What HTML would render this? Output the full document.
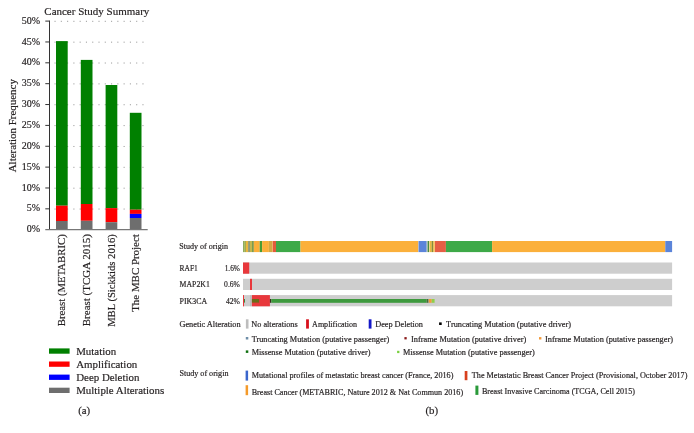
<!DOCTYPE html>
<html><head><meta charset="utf-8"><title>Figure</title>
<style>html,body{margin:0;padding:0;background:#fff;}body{width:694px;height:433px;overflow:hidden;font-family:"Liberation Serif",serif;}svg{display:block;will-change:transform;}text{stroke:#231f20;stroke-width:0.18px;}</style>
</head><body>
<svg width="694" height="433" viewBox="0 0 694 433" font-family="Liberation Serif, serif"><text x="44.3" y="14.7" font-size="11" textLength="105" lengthAdjust="spacingAndGlyphs" fill="#231f20">Cancer Study Summary</text>
<g fill="#9a9a9a"><rect x="54.50" y="208.54" width="1.1" height="1"/><rect x="60.78" y="208.54" width="1.1" height="1"/><rect x="67.06" y="208.54" width="1.1" height="1"/><rect x="73.34" y="208.54" width="1.1" height="1"/><rect x="79.62" y="208.54" width="1.1" height="1"/><rect x="85.90" y="208.54" width="1.1" height="1"/><rect x="92.18" y="208.54" width="1.1" height="1"/><rect x="98.46" y="208.54" width="1.1" height="1"/><rect x="104.74" y="208.54" width="1.1" height="1"/><rect x="111.02" y="208.54" width="1.1" height="1"/><rect x="117.30" y="208.54" width="1.1" height="1"/><rect x="123.58" y="208.54" width="1.1" height="1"/><rect x="129.86" y="208.54" width="1.1" height="1"/><rect x="136.14" y="208.54" width="1.1" height="1"/><rect x="142.42" y="208.54" width="1.1" height="1"/><rect x="54.50" y="187.68" width="1.1" height="1"/><rect x="60.78" y="187.68" width="1.1" height="1"/><rect x="67.06" y="187.68" width="1.1" height="1"/><rect x="73.34" y="187.68" width="1.1" height="1"/><rect x="79.62" y="187.68" width="1.1" height="1"/><rect x="85.90" y="187.68" width="1.1" height="1"/><rect x="92.18" y="187.68" width="1.1" height="1"/><rect x="98.46" y="187.68" width="1.1" height="1"/><rect x="104.74" y="187.68" width="1.1" height="1"/><rect x="111.02" y="187.68" width="1.1" height="1"/><rect x="117.30" y="187.68" width="1.1" height="1"/><rect x="123.58" y="187.68" width="1.1" height="1"/><rect x="129.86" y="187.68" width="1.1" height="1"/><rect x="136.14" y="187.68" width="1.1" height="1"/><rect x="142.42" y="187.68" width="1.1" height="1"/><rect x="54.50" y="166.82" width="1.1" height="1"/><rect x="60.78" y="166.82" width="1.1" height="1"/><rect x="67.06" y="166.82" width="1.1" height="1"/><rect x="73.34" y="166.82" width="1.1" height="1"/><rect x="79.62" y="166.82" width="1.1" height="1"/><rect x="85.90" y="166.82" width="1.1" height="1"/><rect x="92.18" y="166.82" width="1.1" height="1"/><rect x="98.46" y="166.82" width="1.1" height="1"/><rect x="104.74" y="166.82" width="1.1" height="1"/><rect x="111.02" y="166.82" width="1.1" height="1"/><rect x="117.30" y="166.82" width="1.1" height="1"/><rect x="123.58" y="166.82" width="1.1" height="1"/><rect x="129.86" y="166.82" width="1.1" height="1"/><rect x="136.14" y="166.82" width="1.1" height="1"/><rect x="142.42" y="166.82" width="1.1" height="1"/><rect x="54.50" y="145.96" width="1.1" height="1"/><rect x="60.78" y="145.96" width="1.1" height="1"/><rect x="67.06" y="145.96" width="1.1" height="1"/><rect x="73.34" y="145.96" width="1.1" height="1"/><rect x="79.62" y="145.96" width="1.1" height="1"/><rect x="85.90" y="145.96" width="1.1" height="1"/><rect x="92.18" y="145.96" width="1.1" height="1"/><rect x="98.46" y="145.96" width="1.1" height="1"/><rect x="104.74" y="145.96" width="1.1" height="1"/><rect x="111.02" y="145.96" width="1.1" height="1"/><rect x="117.30" y="145.96" width="1.1" height="1"/><rect x="123.58" y="145.96" width="1.1" height="1"/><rect x="129.86" y="145.96" width="1.1" height="1"/><rect x="136.14" y="145.96" width="1.1" height="1"/><rect x="142.42" y="145.96" width="1.1" height="1"/><rect x="54.50" y="125.10" width="1.1" height="1"/><rect x="60.78" y="125.10" width="1.1" height="1"/><rect x="67.06" y="125.10" width="1.1" height="1"/><rect x="73.34" y="125.10" width="1.1" height="1"/><rect x="79.62" y="125.10" width="1.1" height="1"/><rect x="85.90" y="125.10" width="1.1" height="1"/><rect x="92.18" y="125.10" width="1.1" height="1"/><rect x="98.46" y="125.10" width="1.1" height="1"/><rect x="104.74" y="125.10" width="1.1" height="1"/><rect x="111.02" y="125.10" width="1.1" height="1"/><rect x="117.30" y="125.10" width="1.1" height="1"/><rect x="123.58" y="125.10" width="1.1" height="1"/><rect x="129.86" y="125.10" width="1.1" height="1"/><rect x="136.14" y="125.10" width="1.1" height="1"/><rect x="142.42" y="125.10" width="1.1" height="1"/><rect x="54.50" y="104.24" width="1.1" height="1"/><rect x="60.78" y="104.24" width="1.1" height="1"/><rect x="67.06" y="104.24" width="1.1" height="1"/><rect x="73.34" y="104.24" width="1.1" height="1"/><rect x="79.62" y="104.24" width="1.1" height="1"/><rect x="85.90" y="104.24" width="1.1" height="1"/><rect x="92.18" y="104.24" width="1.1" height="1"/><rect x="98.46" y="104.24" width="1.1" height="1"/><rect x="104.74" y="104.24" width="1.1" height="1"/><rect x="111.02" y="104.24" width="1.1" height="1"/><rect x="117.30" y="104.24" width="1.1" height="1"/><rect x="123.58" y="104.24" width="1.1" height="1"/><rect x="129.86" y="104.24" width="1.1" height="1"/><rect x="136.14" y="104.24" width="1.1" height="1"/><rect x="142.42" y="104.24" width="1.1" height="1"/><rect x="54.50" y="83.38" width="1.1" height="1"/><rect x="60.78" y="83.38" width="1.1" height="1"/><rect x="67.06" y="83.38" width="1.1" height="1"/><rect x="73.34" y="83.38" width="1.1" height="1"/><rect x="79.62" y="83.38" width="1.1" height="1"/><rect x="85.90" y="83.38" width="1.1" height="1"/><rect x="92.18" y="83.38" width="1.1" height="1"/><rect x="98.46" y="83.38" width="1.1" height="1"/><rect x="104.74" y="83.38" width="1.1" height="1"/><rect x="111.02" y="83.38" width="1.1" height="1"/><rect x="117.30" y="83.38" width="1.1" height="1"/><rect x="123.58" y="83.38" width="1.1" height="1"/><rect x="129.86" y="83.38" width="1.1" height="1"/><rect x="136.14" y="83.38" width="1.1" height="1"/><rect x="142.42" y="83.38" width="1.1" height="1"/><rect x="54.50" y="62.52" width="1.1" height="1"/><rect x="60.78" y="62.52" width="1.1" height="1"/><rect x="67.06" y="62.52" width="1.1" height="1"/><rect x="73.34" y="62.52" width="1.1" height="1"/><rect x="79.62" y="62.52" width="1.1" height="1"/><rect x="85.90" y="62.52" width="1.1" height="1"/><rect x="92.18" y="62.52" width="1.1" height="1"/><rect x="98.46" y="62.52" width="1.1" height="1"/><rect x="104.74" y="62.52" width="1.1" height="1"/><rect x="111.02" y="62.52" width="1.1" height="1"/><rect x="117.30" y="62.52" width="1.1" height="1"/><rect x="123.58" y="62.52" width="1.1" height="1"/><rect x="129.86" y="62.52" width="1.1" height="1"/><rect x="136.14" y="62.52" width="1.1" height="1"/><rect x="142.42" y="62.52" width="1.1" height="1"/><rect x="54.50" y="41.66" width="1.1" height="1"/><rect x="60.78" y="41.66" width="1.1" height="1"/><rect x="67.06" y="41.66" width="1.1" height="1"/><rect x="73.34" y="41.66" width="1.1" height="1"/><rect x="79.62" y="41.66" width="1.1" height="1"/><rect x="85.90" y="41.66" width="1.1" height="1"/><rect x="92.18" y="41.66" width="1.1" height="1"/><rect x="98.46" y="41.66" width="1.1" height="1"/><rect x="104.74" y="41.66" width="1.1" height="1"/><rect x="111.02" y="41.66" width="1.1" height="1"/><rect x="117.30" y="41.66" width="1.1" height="1"/><rect x="123.58" y="41.66" width="1.1" height="1"/><rect x="129.86" y="41.66" width="1.1" height="1"/><rect x="136.14" y="41.66" width="1.1" height="1"/><rect x="142.42" y="41.66" width="1.1" height="1"/><rect x="54.50" y="20.80" width="1.1" height="1"/><rect x="60.78" y="20.80" width="1.1" height="1"/><rect x="67.06" y="20.80" width="1.1" height="1"/><rect x="73.34" y="20.80" width="1.1" height="1"/><rect x="79.62" y="20.80" width="1.1" height="1"/><rect x="85.90" y="20.80" width="1.1" height="1"/><rect x="92.18" y="20.80" width="1.1" height="1"/><rect x="98.46" y="20.80" width="1.1" height="1"/><rect x="104.74" y="20.80" width="1.1" height="1"/><rect x="111.02" y="20.80" width="1.1" height="1"/><rect x="117.30" y="20.80" width="1.1" height="1"/><rect x="123.58" y="20.80" width="1.1" height="1"/><rect x="129.86" y="20.80" width="1.1" height="1"/><rect x="136.14" y="20.80" width="1.1" height="1"/><rect x="142.42" y="20.80" width="1.1" height="1"/></g>
<rect x="56.0" y="41.1" width="11.7" height="164.60" fill="#008000"/>
<rect x="56.0" y="205.7" width="11.7" height="15.30" fill="#ff0000"/>
<rect x="56.0" y="221.0" width="11.7" height="8.70" fill="#6e6e6e"/>
<rect x="80.8" y="59.9" width="11.7" height="144.10" fill="#008000"/>
<rect x="80.8" y="204.0" width="11.7" height="16.80" fill="#ff0000"/>
<rect x="80.8" y="220.8" width="11.7" height="8.90" fill="#6e6e6e"/>
<rect x="105.6" y="85.0" width="11.7" height="123.10" fill="#008000"/>
<rect x="105.6" y="208.1" width="11.7" height="14.10" fill="#ff0000"/>
<rect x="105.6" y="222.2" width="11.7" height="7.50" fill="#6e6e6e"/>
<rect x="129.8" y="112.8" width="11.7" height="96.90" fill="#008000"/>
<rect x="129.8" y="209.7" width="11.7" height="4.20" fill="#ff0000"/>
<rect x="129.8" y="213.9" width="11.7" height="4.10" fill="#0000ff"/>
<rect x="129.8" y="218.0" width="11.7" height="11.70" fill="#6e6e6e"/>
<line x1="49.5" y1="20.599999999999994" x2="49.5" y2="229.7" stroke="#333" stroke-width="1"/>
<text x="40.1" y="232.30" font-size="10" text-anchor="end" fill="#231f20">0%</text>
<line x1="45.3" y1="208.84" x2="49.5" y2="208.84" stroke="#333" stroke-width="1"/>
<text x="40.1" y="211.44" font-size="10" text-anchor="end" fill="#231f20">5%</text>
<line x1="45.3" y1="187.98" x2="49.5" y2="187.98" stroke="#333" stroke-width="1"/>
<text x="40.1" y="190.58" font-size="10" text-anchor="end" fill="#231f20">10%</text>
<line x1="45.3" y1="167.12" x2="49.5" y2="167.12" stroke="#333" stroke-width="1"/>
<text x="40.1" y="169.72" font-size="10" text-anchor="end" fill="#231f20">15%</text>
<line x1="45.3" y1="146.26" x2="49.5" y2="146.26" stroke="#333" stroke-width="1"/>
<text x="40.1" y="148.86" font-size="10" text-anchor="end" fill="#231f20">20%</text>
<line x1="45.3" y1="125.40" x2="49.5" y2="125.40" stroke="#333" stroke-width="1"/>
<text x="40.1" y="128.00" font-size="10" text-anchor="end" fill="#231f20">25%</text>
<line x1="45.3" y1="104.54" x2="49.5" y2="104.54" stroke="#333" stroke-width="1"/>
<text x="40.1" y="107.14" font-size="10" text-anchor="end" fill="#231f20">30%</text>
<line x1="45.3" y1="83.68" x2="49.5" y2="83.68" stroke="#333" stroke-width="1"/>
<text x="40.1" y="86.28" font-size="10" text-anchor="end" fill="#231f20">35%</text>
<line x1="45.3" y1="62.82" x2="49.5" y2="62.82" stroke="#333" stroke-width="1"/>
<text x="40.1" y="65.42" font-size="10" text-anchor="end" fill="#231f20">40%</text>
<line x1="45.3" y1="41.96" x2="49.5" y2="41.96" stroke="#333" stroke-width="1"/>
<text x="40.1" y="44.56" font-size="10" text-anchor="end" fill="#231f20">45%</text>
<line x1="45.3" y1="21.10" x2="49.5" y2="21.10" stroke="#333" stroke-width="1"/>
<text x="40.1" y="23.70" font-size="10" text-anchor="end" fill="#231f20">50%</text>
<line x1="45.3" y1="229.7" x2="147.7" y2="229.7" stroke="#777" stroke-width="1.3"/>
<g transform="translate(15.6,172.3) rotate(-90)"><text x="0" y="0" font-size="11.3" textLength="93.2" lengthAdjust="spacingAndGlyphs" fill="#231f20">Alteration Frequency</text></g>
<g transform="translate(65.4,234.2) rotate(-90)"><text x="0" y="0" font-size="10.9" text-anchor="end" textLength="92.0" lengthAdjust="spacingAndGlyphs" fill="#231f20">Breast (METABRIC)</text></g>
<g transform="translate(89.8,234.2) rotate(-90)"><text x="0" y="0" font-size="10.9" text-anchor="end" textLength="92.0" lengthAdjust="spacingAndGlyphs" fill="#231f20">Breast (TCGA 2015)</text></g>
<g transform="translate(114.6,234.2) rotate(-90)"><text x="0" y="0" font-size="10.9" text-anchor="end" textLength="92.6" lengthAdjust="spacingAndGlyphs" fill="#231f20">MBL (Sickkids 2016)</text></g>
<g transform="translate(138.9,234.2) rotate(-90)"><text x="0" y="0" font-size="10.9" text-anchor="end" textLength="77.6" lengthAdjust="spacingAndGlyphs" fill="#231f20">The MBC Project</text></g>
<rect x="49" y="348.40" width="20.6" height="5.3" fill="#008000"/>
<text x="76.2" y="354.50" font-size="10.9" fill="#231f20">Mutation</text>
<rect x="49" y="361.50" width="20.6" height="5.3" fill="#ff0000"/>
<text x="76.2" y="367.75" font-size="10.9" fill="#231f20">Amplification</text>
<rect x="49" y="374.60" width="20.6" height="5.3" fill="#0000ff"/>
<text x="76.2" y="381.00" font-size="10.9" fill="#231f20">Deep Deletion</text>
<rect x="49" y="387.70" width="20.6" height="5.3" fill="#6e6e6e"/>
<text x="76.2" y="394.25" font-size="10.9" fill="#231f20">Multiple Alterations</text>
<text x="78.2" y="413.6" font-size="10.8" fill="#231f20">(a)</text>
<text x="425.5" y="413.6" font-size="10.8" fill="#231f20">(b)</text>
<text x="179.3" y="248.7" font-size="8" textLength="48.7" lengthAdjust="spacingAndGlyphs" fill="#231f20">Study of origin</text>
<rect x="243.0" y="241" width="0.80" height="11.1" fill="#6f8c3a"/>
<rect x="243.8" y="241" width="1.10" height="11.1" fill="#a6c05c"/>
<rect x="244.9" y="241" width="0.90" height="11.1" fill="#7c9232"/>
<rect x="245.8" y="241" width="2.40" height="11.1" fill="#eab63e"/>
<rect x="248.2" y="241" width="1.70" height="11.1" fill="#7f8c6c"/>
<rect x="249.9" y="241" width="2.20" height="11.1" fill="#c2b84e"/>
<rect x="252.1" y="241" width="1.70" height="11.1" fill="#6c9240"/>
<rect x="253.8" y="241" width="5.90" height="11.1" fill="#fbb03b"/>
<rect x="259.7" y="241" width="2.40" height="11.1" fill="#4a9c34"/>
<rect x="262.1" y="241" width="6.80" height="11.1" fill="#fbb03b"/>
<rect x="268.9" y="241" width="3.30" height="11.1" fill="#d3a943"/>
<rect x="272.2" y="241" width="0.80" height="11.1" fill="#f0a050"/>
<rect x="273.0" y="241" width="3.00" height="11.1" fill="#e25c3c"/>
<rect x="276.0" y="241" width="24.50" height="11.1" fill="#3ea948"/>
<rect x="300.5" y="241" width="117.60" height="11.1" fill="#fbb03b"/>
<rect x="418.1" y="241" width="0.80" height="11.1" fill="#a8b0c8"/>
<rect x="418.9" y="241" width="7.80" height="11.1" fill="#5b84d9"/>
<rect x="426.7" y="241" width="1.00" height="11.1" fill="#b0c0b0"/>
<rect x="427.7" y="241" width="1.30" height="11.1" fill="#4a8a40"/>
<rect x="429.0" y="241" width="0.70" height="11.1" fill="#e8d8a0"/>
<rect x="429.7" y="241" width="2.10" height="11.1" fill="#e9b841"/>
<rect x="431.8" y="241" width="1.10" height="11.1" fill="#6a7a20"/>
<rect x="432.9" y="241" width="1.50" height="11.1" fill="#e8c060"/>
<rect x="434.4" y="241" width="0.60" height="11.1" fill="#fbb03b"/>
<rect x="435.0" y="241" width="10.90" height="11.1" fill="#e65e45"/>
<rect x="445.9" y="241" width="46.20" height="11.1" fill="#3ea948"/>
<rect x="492.1" y="241" width="173.20" height="11.1" fill="#fbb03b"/>
<rect x="665.3" y="241" width="6.80" height="11.1" fill="#5b84d9"/>
<rect x="243.0" y="262.5" width="429.10" height="11.2" fill="#cecece"/>
<text x="179.6" y="270.6" font-size="8" textLength="18.2" lengthAdjust="spacingAndGlyphs" fill="#231f20">RAF1</text>
<text x="239.9" y="270.6" font-size="8" text-anchor="end" textLength="15.2" lengthAdjust="spacingAndGlyphs" fill="#231f20">1.6%</text>
<rect x="243.0" y="278.8" width="429.10" height="11.2" fill="#cecece"/>
<text x="179.6" y="287.4" font-size="8" textLength="30.2" lengthAdjust="spacingAndGlyphs" fill="#231f20">MAP2K1</text>
<text x="239.9" y="287.4" font-size="8" text-anchor="end" textLength="15.8" lengthAdjust="spacingAndGlyphs" fill="#231f20">0.6%</text>
<rect x="243.0" y="295.1" width="429.10" height="11.2" fill="#cecece"/>
<text x="179.6" y="304.3" font-size="8" textLength="27.6" lengthAdjust="spacingAndGlyphs" fill="#231f20">PIK3CA</text>
<text x="239.9" y="304.3" font-size="8" text-anchor="end" textLength="14.0" lengthAdjust="spacingAndGlyphs" fill="#231f20">42%</text>
<rect x="243" y="262.5" width="6.2" height="11.2" fill="#e8383c"/>
<rect x="250" y="278.8" width="2" height="11.2" fill="#e8383c"/>
<rect x="243" y="295.1" width="1" height="11.2" fill="#e8383c"/>
<rect x="244" y="299" width="1" height="3.6" fill="#3a8a3a"/>
<rect x="250.5" y="295.1" width="0.8" height="11.2" fill="#a8a8a8"/>
<rect x="251.9" y="295.1" width="18" height="11.2" fill="#e8383c"/>
<rect x="251.9" y="299" width="7.2" height="3.6" fill="#6b6b18"/>
<rect x="269.9" y="299" width="1.4" height="3.8" fill="#3a2a1a"/>
<rect x="271.3" y="299" width="155.4" height="3.8" fill="#3e9a3e"/>
<rect x="426.7" y="299" width="1.8" height="3.8" fill="#4a6a3a"/>
<rect x="428.8" y="299" width="2.9" height="3.8" fill="#f29a3a"/>
<rect x="431.7" y="299" width="2.9" height="3.8" fill="#8ed04a"/>
<text x="179.4" y="326.7" font-size="8" textLength="61.2" lengthAdjust="spacingAndGlyphs" fill="#231f20">Genetic Alteration</text>
<rect x="245.9" y="319.3" width="2.6" height="9.3" fill="#bdbdbd"/>
<text x="251.3" y="326.7" font-size="8" textLength="46.4" lengthAdjust="spacingAndGlyphs" fill="#231f20">No alterations</text>
<rect x="306.1" y="319.3" width="2.8" height="9.3" fill="#d8101c"/>
<text x="312.1" y="326.7" font-size="8" textLength="45" lengthAdjust="spacingAndGlyphs" fill="#231f20">Amplification</text>
<rect x="368.7" y="319.3" width="2.8" height="9.3" fill="#1418c8"/>
<text x="375.2" y="326.7" font-size="8" textLength="47.8" lengthAdjust="spacingAndGlyphs" fill="#231f20">Deep Deletion</text>
<rect x="439.1" y="322.4" width="2.6" height="2.6" fill="#000"/>
<text x="446.1" y="326.7" font-size="8" textLength="125" lengthAdjust="spacingAndGlyphs" fill="#231f20">Truncating Mutation (putative driver)</text>
<rect x="245.8" y="337.0" width="2.5" height="2.5" fill="#6f8ea8"/>
<text x="251.7" y="341.6" font-size="8" textLength="137.5" lengthAdjust="spacingAndGlyphs" fill="#231f20">Truncating Mutation (putative passenger)</text>
<rect x="404.4" y="337.1" width="2.3" height="2.3" fill="#8a1a1a"/>
<text x="411" y="341.6" font-size="8" textLength="115.2" lengthAdjust="spacingAndGlyphs" fill="#231f20">Inframe Mutation (putative driver)</text>
<rect x="539.0" y="337.1" width="2.4" height="2.4" fill="#f29a3a"/>
<text x="545" y="341.6" font-size="8" textLength="128" lengthAdjust="spacingAndGlyphs" fill="#231f20">Inframe Mutation (putative passenger)</text>
<rect x="245.8" y="350.4" width="2.5" height="2.5" fill="#107010"/>
<text x="251.7" y="354.7" font-size="8" textLength="118.7" lengthAdjust="spacingAndGlyphs" fill="#231f20">Missense Mutation (putative driver)</text>
<rect x="397.1" y="350.8" width="2.3" height="2.3" fill="#7ad040"/>
<text x="402.9" y="354.7" font-size="8" textLength="131.8" lengthAdjust="spacingAndGlyphs" fill="#231f20">Missense Mutation (putative passenger)</text>
<text x="179.4" y="376.1" font-size="8" textLength="49.1" lengthAdjust="spacingAndGlyphs" fill="#231f20">Study of origin</text>
<rect x="245.6" y="370.6" width="2.5" height="10" fill="#3a66cc"/>
<text x="251.7" y="377.5" font-size="8" textLength="201.7" lengthAdjust="spacingAndGlyphs" fill="#231f20">Mutational profiles of metastatic breast cancer (France, 2016)</text>
<rect x="464.7" y="371" width="2.7" height="9.2" fill="#d8401e"/>
<text x="471.8" y="377.5" font-size="8" textLength="215.6" lengthAdjust="spacingAndGlyphs" fill="#231f20">The Metastatic Breast Cancer Project (Provisional, October 2017)</text>
<rect x="245.6" y="385.2" width="2.5" height="10" fill="#f49a2a"/>
<text x="251.7" y="395.0" font-size="8" textLength="211.4" lengthAdjust="spacingAndGlyphs" fill="#231f20">Breast Cancer (METABRIC, Nature 2012 &amp; Nat Commun 2016)</text>
<rect x="475.4" y="385.6" width="3" height="9.3" fill="#2a9a3a"/>
<text x="481.9" y="393.9" font-size="8" textLength="153" lengthAdjust="spacingAndGlyphs" fill="#231f20">Breast Invasive Carcinoma (TCGA, Cell 2015)</text></svg>
</body></html>
